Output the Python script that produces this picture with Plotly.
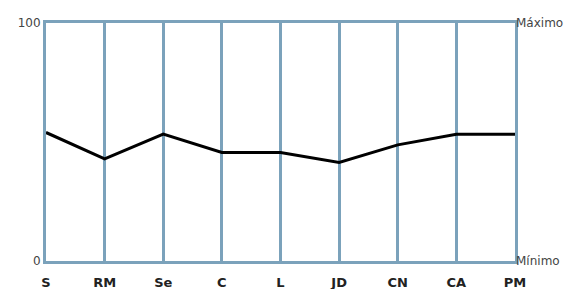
import plotly.graph_objects as go

categories = ["S", "RM", "Se", "C", "L", "JD", "CN", "CA", "PM"]
values = [54.0, 42.9, 53.3, 45.6, 45.6, 41.4, 48.8, 53.3, 53.3]
left_ticks = [0, 100]
left_labels = ["0", "100"]
right_labels = ["Mínimo", "Máximo"]

grid_color = "#7ba2bb"
font_family = "DejaVu Sans, Verdana, sans-serif"

fig = go.Figure()
fig.add_trace(go.Scatter(
    x=list(range(len(categories))), y=values, mode="lines",
    line=dict(color="black", width=3), hoverinfo="skip", showlegend=False,
))
fig.add_trace(go.Scatter(x=[0], y=[0], yaxis="y2", mode="markers",
                         marker=dict(opacity=0), showlegend=False, hoverinfo="skip"))

fig.update_layout(
    width=583, height=289,
    margin=dict(l=46, r=68, t=23, b=28, autoexpand=False),
    plot_bgcolor="white", paper_bgcolor="white",
    xaxis=dict(
        range=[0, len(categories) - 1],
        tickvals=list(range(len(categories))), ticktext=categories,
        showgrid=True, gridcolor=grid_color, gridwidth=3,
        showline=True, linecolor=grid_color, linewidth=3, mirror=True,
        ticks="outside", ticklen=7, tickcolor="rgba(0,0,0,0)",
        tickfont=dict(family=font_family, size=13, color="#222", weight="bold"),
        zeroline=False, fixedrange=True, automargin=False,
    ),
    yaxis=dict(
        range=[0, 100], tickvals=left_ticks, ticktext=left_labels,
        showgrid=False, showline=True, linecolor=grid_color, linewidth=3, mirror=True,
        ticks="", tickfont=dict(family=font_family, size=12, color="#444"),
        zeroline=False, fixedrange=True, automargin=False,
    ),
    yaxis2=dict(
        range=[0, 100], overlaying="y", side="right",
        tickvals=left_ticks, ticktext=right_labels,
        showgrid=False, showline=False, ticks="",
        tickfont=dict(family=font_family, size=12, color="#444"),
        zeroline=False, fixedrange=True, automargin=False,
    ),
)

fig.write_html("out.html", config={"displayModeBar": False},
               post_script="document.body.style.margin='0';")
